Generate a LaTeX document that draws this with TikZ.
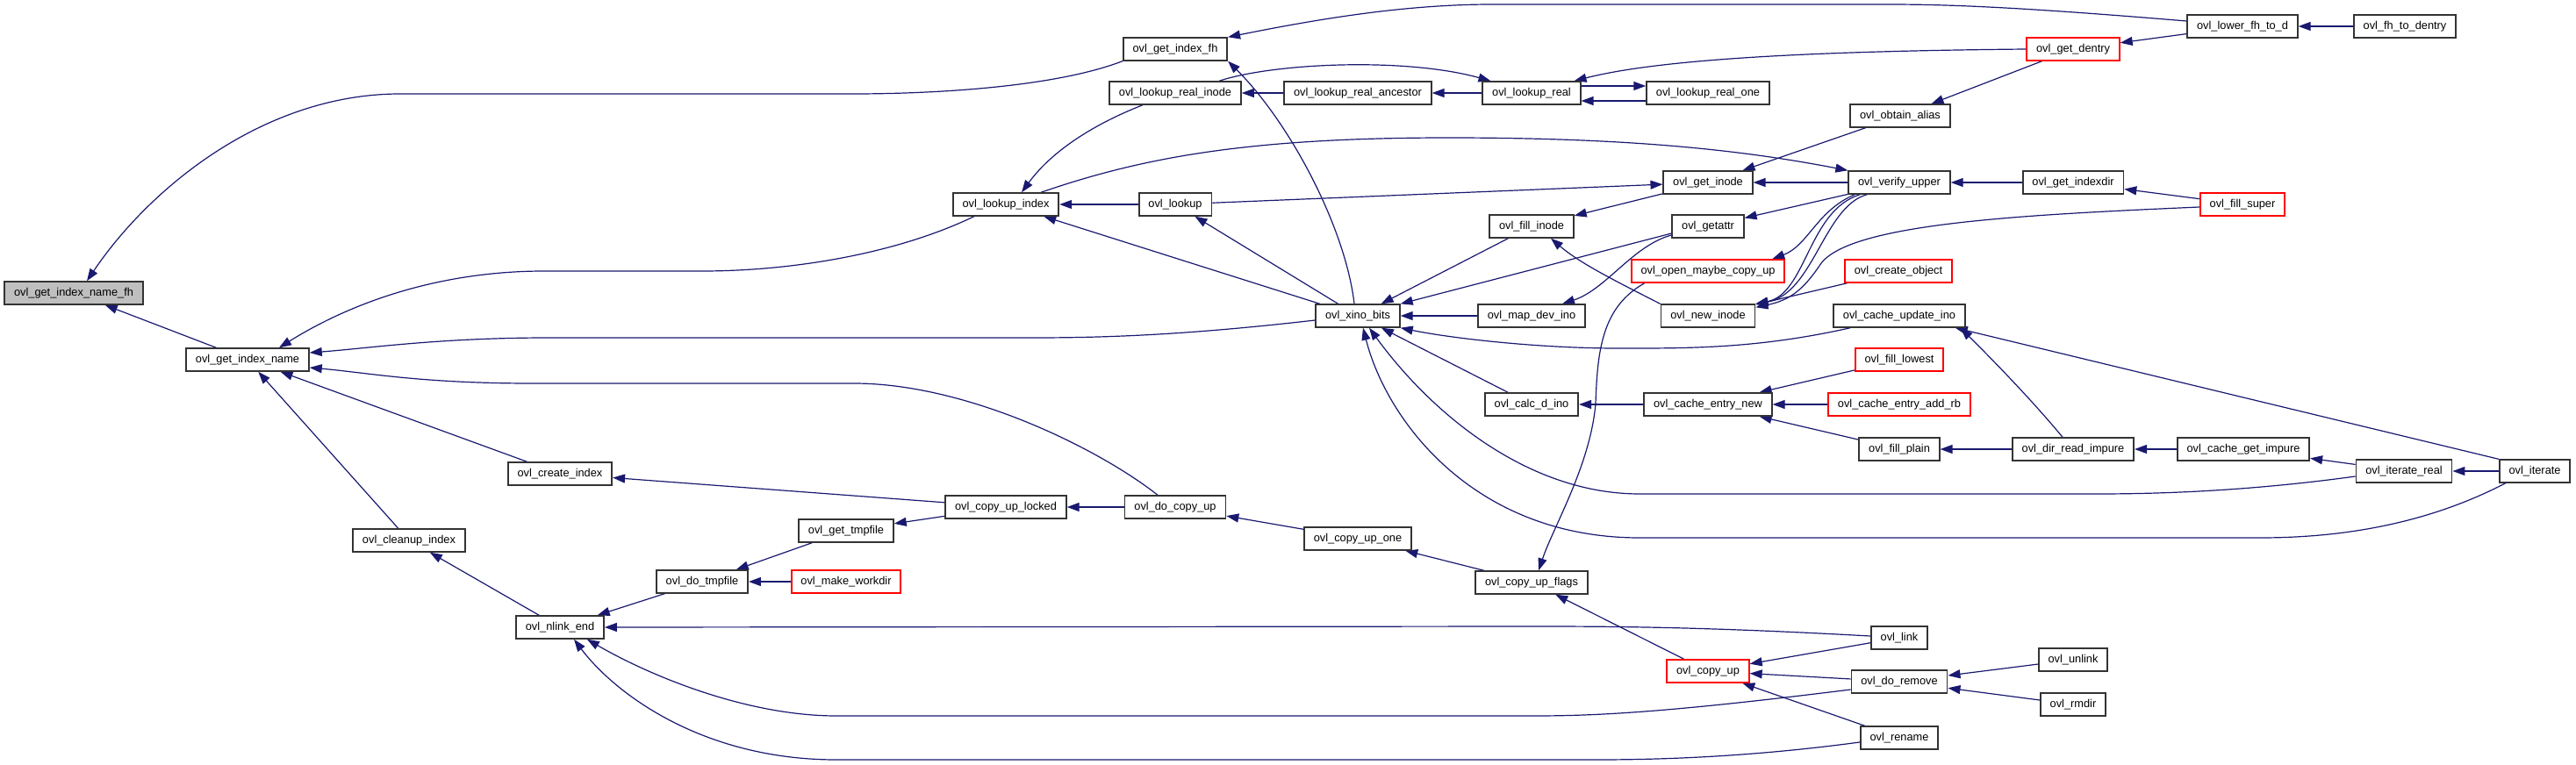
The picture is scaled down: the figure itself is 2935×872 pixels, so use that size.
\documentclass[tikz,border=0pt]{standalone}
\usepackage{fontspec}
\setmainfont{Liberation Sans}
\usetikzlibrary{arrows.meta,calc,backgrounds}
\definecolor{edgeblue}{RGB}{25,25,112}
\definecolor{rootgray}{RGB}{191,191,191}
\tikzset{
  fn/.style     = {rectangle, draw=black!80, line width=0.9pt, fill=white,
                   inner xsep=5.4pt, inner ysep=0pt, minimum height=12.8pt,
                   font=\fontsize{6.4pt}{7.5pt}\selectfont},
  fnroot/.style = {fn, fill=rootgray},
  fnred/.style  = {fn, draw=red},
  edge/.style   = {-{Triangle[length=7pt,width=5pt]}, draw=edgeblue, line width=0.6pt},
}

\begin{document}
\begin{tikzpicture}[x=0.5pt,y=-0.5pt]
  \useasboundingbox (0,0) rectangle (2935,872);

  % ---- functions, column by column --------------------------------------
  \node[fnroot] (fh)        at (84,334)   {ovl\_get\_index\_name\_fh};
  \node[fn]     (name)      at (282,410)  {ovl\_get\_index\_name};
  \node[fn]     (cleanup)   at (466,616)  {ovl\_cleanup\_index};
  \node[fn]     (createidx) at (638,540)  {ovl\_create\_index};
  \node[fn]     (nlink)     at (638,715)  {ovl\_nlink\_end};
  \node[fn]     (dotmp)     at (800,663)  {ovl\_do\_tmpfile};
  \node[fn]     (gettmp)    at (964,605)  {ovl\_get\_tmpfile};
  \node[fnred]  (workdir)   at (964,663)  {ovl\_make\_workdir};
  \node[fn]     (lookupidx) at (1146,233) {ovl\_lookup\_index};
  \node[fn]     (cuplocked) at (1146,578) {ovl\_copy\_up\_locked};
  \node[fn]     (getidxfh)  at (1339,56)  {ovl\_get\_index\_fh};
  \node[fn]     (lrinode)   at (1339,106) {ovl\_lookup\_real\_inode};
  \node[fn]     (lookup)    at (1339,233) {ovl\_lookup};
  \node[fn]     (docopyup)  at (1339,578) {ovl\_do\_copy\_up};
  \node[fn]     (lrancestor) at (1547,106) {ovl\_lookup\_real\_ancestor};
  \node[fn]     (xino)      at (1547,360) {ovl\_xino\_bits};
  \node[fn]     (cuone)     at (1547,614) {ovl\_copy\_up\_one};
  \node[fn]     (lreal)     at (1745,106) {ovl\_lookup\_real};
  \node[fn]     (fillinode) at (1745,258) {ovl\_fill\_inode};
  \node[fn]     (mapdev)    at (1745,360) {ovl\_map\_dev\_ino};
  \node[fn]     (calcdino)  at (1745,461) {ovl\_calc\_d\_ino};
  \node[fn]     (cuflags)   at (1745,664) {ovl\_copy\_up\_flags};
  \node[fn]     (lrone)     at (1946,106) {ovl\_lookup\_real\_one};
  \node[fn]     (getinode)  at (1946,208) {ovl\_get\_inode};
  \node[fn]     (getattr)   at (1946,258) {ovl\_getattr};
  \node[fnred]  (openmaybe) at (1946,309) {ovl\_open\_maybe\_copy\_up};
  \node[fn]     (newinode)  at (1946,360) {ovl\_new\_inode};
  \node[fn]     (centrynew) at (1946,461) {ovl\_cache\_entry\_new};
  \node[fnred]  (copyup)    at (1946,765) {ovl\_copy\_up};
  \node[fn]     (alias)     at (2165,132) {ovl\_obtain\_alias};
  \node[fn]     (verify)    at (2164,208) {ovl\_verify\_upper};
  \node[fnred]  (createobj) at (2163,309) {ovl\_create\_object};
  \node[fn]     (cupdino)   at (2164,360) {ovl\_cache\_update\_ino};
  \node[fnred]  (filllowest) at (2164,410) {ovl\_fill\_lowest};
  \node[fnred]  (addrb)     at (2164,461) {ovl\_cache\_entry\_add\_rb};
  \node[fn]     (fillplain) at (2164,512) {ovl\_fill\_plain};
  \node[fn]     (link)      at (2164,727) {ovl\_link};
  \node[fn]     (doremove)  at (2164,777) {ovl\_do\_remove};
  \node[fn]     (rename)    at (2164,841) {ovl\_rename};
  \node[fnred]  (getdentry) at (2362,56)  {ovl\_get\_dentry};
  \node[fn]     (indexdir)  at (2362,208) {ovl\_get\_indexdir};
  \node[fn]     (dirimpure) at (2362,512) {ovl\_dir\_read\_impure};
  \node[fn]     (unlink)    at (2362,752) {ovl\_unlink};
  \node[fn]     (rmdir)     at (2362,803) {ovl\_rmdir};
  \node[fn]     (lowerfh)   at (2555,30)  {ovl\_lower\_fh\_to\_d};
  \node[fnred]  (fillsuper) at (2555,233) {ovl\_fill\_super};
  \node[fn]     (cgetimpure) at (2556,512) {ovl\_cache\_get\_impure};
  \node[fn]     (fhdentry)  at (2740,30)  {ovl\_fh\_to\_dentry};
  \node[fn]     (iterreal)  at (2739,537) {ovl\_iterate\_real};
  \node[fn]     (iterate)   at (2888,537) {ovl\_iterate};

  \begin{scope}[on background layer]
    % ---- straight calls ---------------------------------------------------
    \draw[edge] (name) -- (fh);
    \draw[edge] (createidx) -- (name);
    \draw[edge] (cleanup) -- (name);
    \draw[edge] (nlink) -- (cleanup);
    \draw[edge] (cuplocked) -- (createidx);
    \draw[edge] (dotmp) -- (nlink);
    \draw[edge] (gettmp) -- (dotmp);
    \draw[edge] (workdir) -- (dotmp);
    \draw[edge] (cuplocked) -- (gettmp);
    \draw[edge] (docopyup) -- (cuplocked);
    \draw[edge] (cuone) -- (docopyup);
    \draw[edge] (cuflags) -- (cuone);
    \draw[edge] (copyup) -- (cuflags);
    \draw[edge] (link) -- (copyup);
    \draw[edge] (doremove) -- (copyup);
    \draw[edge] (rename) -- (copyup);
    \draw[edge] (unlink) -- (doremove);
    \draw[edge] (rmdir) -- (doremove);
    \draw[edge] (lookup) -- (lookupidx);
    \draw[edge] (xino) -- (lookupidx);
    \draw[edge] (xino) -- (lookup);
    \draw[edge] (lookup) -- (getinode);
    \draw[edge] (lrancestor) -- (lrinode);
    \draw[edge] (lreal) -- (lrancestor);
    \draw[edge] (lowerfh) -- (getdentry);
    \draw[edge] (fhdentry) -- (lowerfh);
    \draw[edge] (getdentry) -- (alias);
    \draw[edge] (alias) -- (getinode);
    \draw[edge] (verify) -- (getinode);
    \draw[edge] (indexdir) -- (verify);
    \draw[edge] (fillsuper) -- (indexdir);
    \draw[edge] (getinode) -- (fillinode);
    \draw[edge] (verify) -- (getattr);
    \draw[edge] (createobj) -- (newinode);
    \draw[edge] (fillinode) -- (xino);
    \draw[edge] (mapdev) -- (xino);
    \draw[edge] (calcdino) -- (xino);
    \draw[edge] (centrynew) -- (calcdino);
    \draw[edge] (addrb) -- (centrynew);
    \draw[edge] (filllowest) -- (centrynew);
    \draw[edge] (fillplain) -- (centrynew);
    \draw[edge] (dirimpure) -- (fillplain);
    \draw[edge] (cgetimpure) -- (dirimpure);
    \draw[edge] (iterreal) -- (cgetimpure);
    \draw[edge] (iterate) -- (iterreal);
    \draw[edge] (iterate.north west) -- ($(cupdino.south east)+(-12,0)$);
    \draw[edge] ($(getattr.west)+(0,8)$) -- (xino.north east);
    \draw[edge] ($(lreal.east)+(0,-8)$) -- ($(lrone.west)+(0,-8)$);
    \draw[edge] ($(lrone.west)+(0,9)$) -- ($(lreal.east)+(0,9)$);

    % ---- long and bent calls ----------------------------------------------
    \draw[edge] (getidxfh.south west) .. controls (1200,100) and (1060,107) .. (972,107)
                -- (456,107) .. controls (300,107) and (170,215) .. ($(fh.north)+(15,0)$);
    \draw[edge] ($(lookupidx.south west)+(25,0)$) .. controls (1020,290) and (900,309) .. (800,309)
                -- (620,309) .. controls (500,309) and (400,345) .. ($(name.north)+(36,0)$);
    \draw[edge] ($(xino.west)+(0,5)$) .. controls (1350,382) and (1260,385) .. (1176,385)
                -- (625,385) .. controls (500,385) and (420,397) .. ($(name.east)+(0,-8)$);
    \draw[edge] ($(docopyup.north)+(-20,0)$) .. controls (1250,510) and (1100,437) .. (973,437)
                -- (606,437) .. controls (480,437) and (420,425) .. ($(name.east)+(0,9)$);
    \draw[edge] ($(link.west)+(0,-2)$) .. controls (1950,715) and (1850,714) .. (1750,714)
                -- (nlink.east);
    \draw[edge] ($(doremove.west)+(0,9)$) .. controls (1900,812) and (1820,816) .. (1747,816)
                -- (953,816) .. controls (850,816) and (740,770) .. ($(nlink.south east)+(-20,0)$);
    \draw[edge] ($(rename.west)+(0,5)$) .. controls (2000,862) and (1900,866) .. (1819,866)
                -- (953,866) .. controls (800,866) and (700,790) .. ($(nlink.south)+(16,0)$);
    \draw[edge] ($(lrinode.south)+(-37,0)$) .. controls (1250,140) and (1200,170) .. ($(lookupidx.north)+(18,0)$);
    \draw[edge] ($(lookupidx.north)+(40,0)$) .. controls (1300,180) and (1420,157) .. (1650,157)
                .. controls (1850,157) and (1980,170) .. (verify.north west);
    \draw[edge] ($(lowerfh.west)+(0,-6)$) .. controls (2300,8) and (2220,5) .. (2150,5)
                -- (1700,5) .. controls (1600,5) and (1500,22) .. (getidxfh.north east);
    \draw[edge] ($(xino.north)+(-4,0)$) .. controls (1533,260) and (1470,140) .. (getidxfh.south east);
    \draw[edge] ($(lrinode.north)+(50,0)$) .. controls (1450,72) and (1600,65) .. ($(lreal.north west)+(10,0)$);
    \draw[edge] (getdentry.west) .. controls (2100,58) and (1900,65) .. ($(lreal.north east)+(-8,0)$);
    \draw[edge] ($(getattr.west)+(0,10)$) .. controls (1860,280) and (1830,330) .. ($(mapdev.north)+(35,0)$);
    \draw[edge] (newinode.north west) .. controls (1840,320) and (1800,300) .. ($(fillinode.south)+(22,0)$);
    \draw[edge] ($(verify.south west)+(8,0)$) .. controls (2070,240) and (2060,280) .. ($(openmaybe.north east)+(-15,0)$);
    \draw[edge] ($(verify.south west)+(14,0)$) .. controls (2060,240) and (2058,335) .. (newinode.north east);
    \draw[edge] ($(verify.south west)+(22,0)$) .. controls (2078,235) and (2066,335) .. (newinode.north east);
    \draw[edge] ($(fillsuper.west)+(0,3)$) .. controls (2300,245) and (2110,255) .. (2075,300)
                .. controls (2055,330) and (2040,342) .. ($(newinode.north east)+(0,4)$);
    \draw[edge] ($(cupdino.south west)+(20,0)$) .. controls (2000,398) and (1920,397) .. (1843,397)
                .. controls (1750,397) and (1650,385) .. (xino.south east);
    \draw[edge] ($(iterreal.west)+(0,6)$) .. controls (2560,560) and (2460,563) .. (2388,563)
                -- (1868,563) .. controls (1740,563) and (1630,470) .. ($(xino.south)+(13,0)$);
    \draw[edge] ($(iterate.south west)+(8,0)$) .. controls (2760,600) and (2660,613) .. (2575,613)
                -- (1868,613) .. controls (1680,613) and (1580,480) .. ($(xino.south)+(6,0)$);
    \draw[edge] ($(openmaybe.south west)+(16,0)$) .. controls (1825,350) and (1820,400) .. (1818,460)
                .. controls (1812,530) and (1770,600) .. ($(cuflags.north)+(8,0)$);
    \draw[edge] ($(dirimpure.north)+(-12,0)$) .. controls (2310,450) and (2260,400) .. ($(cupdino.south east)+(-6,0)$);
  \end{scope}
\end{tikzpicture}
\end{document}
